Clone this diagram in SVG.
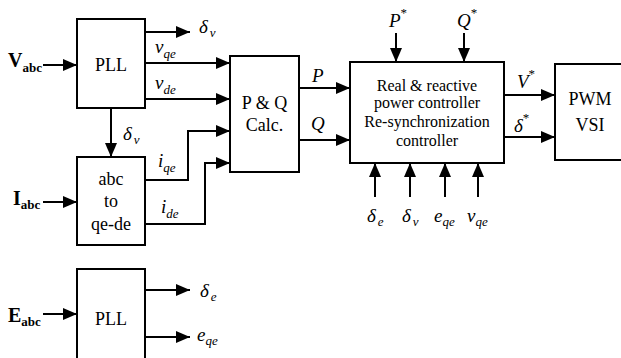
<svg xmlns="http://www.w3.org/2000/svg" width="621" height="358" viewBox="0 0 621 358">
<style>
.box{fill:#fff;stroke:#000;stroke-width:2}
.w{fill:none;stroke:#000;stroke-width:2;marker-end:url(#ah)}
text{font-family:'Liberation Serif','Times New Roman',Times,'DejaVu Serif',serif;fill:#000}
.t{font-size:18px;text-anchor:middle}
.ct{font-size:16px;text-anchor:middle}
.i{font-style:italic;font-size:19px}
.b{font-weight:bold;font-size:20px}
.s{font-size:13px}
.sb{font-size:13px}
.sup{font-size:13px;font-style:normal}
</style>
<defs>
<marker id="ah" markerUnits="userSpaceOnUse" markerWidth="14" markerHeight="12" refX="14" refY="6" orient="auto">
<path d="M0,0 L14,6 L0,12 z" fill="#000"/>
</marker>
</defs>
<rect width="621" height="358" fill="#fff"/>
<g id="connectors">
<line class="w" x1="43" y1="65" x2="77" y2="65"/>
<line class="w" x1="145" y1="32" x2="190" y2="32"/>
<line class="w" x1="145" y1="63" x2="230" y2="63"/>
<line class="w" x1="145" y1="99" x2="230" y2="99"/>
<line class="w" x1="111" y1="108" x2="111" y2="157"/>
<line class="w" x1="43" y1="202" x2="77" y2="202"/>
<polyline class="w" points="145,180 188,180 188,131 230,131"/>
<polyline class="w" points="145,224 205,224 205,163 230,163"/>
<line class="w" x1="299" y1="88" x2="350" y2="88"/>
<line class="w" x1="299" y1="140" x2="350" y2="140"/>
<line class="w" x1="396" y1="33" x2="396" y2="62"/>
<line class="w" x1="464" y1="33" x2="464" y2="62"/>
<line class="w" x1="375" y1="197" x2="375" y2="163"/>
<line class="w" x1="410" y1="197" x2="410" y2="163"/>
<line class="w" x1="445" y1="197" x2="445" y2="163"/>
<line class="w" x1="478" y1="197" x2="478" y2="163"/>
<line class="w" x1="504" y1="95" x2="555" y2="95"/>
<line class="w" x1="504" y1="137" x2="555" y2="137"/>
<line class="w" x1="43" y1="314" x2="77" y2="314"/>
<line class="w" x1="145" y1="290" x2="190" y2="290"/>
<line class="w" x1="145" y1="337" x2="190" y2="337"/>
</g>
<g id="pll1">
<rect class="box" x="77" y="19" width="68" height="89"/>
<text class="t" x="111" y="71">PLL</text>
</g>
<g id="abc2dq">
<rect class="box" x="77" y="157" width="68" height="88"/>
<text class="t" x="111" y="185">abc</text>
<text class="t" x="111" y="207">to</text>
<text class="t" x="111" y="230">qe-de</text>
</g>
<g id="pqcalc">
<rect class="box" x="230" y="56" width="69" height="116"/>
<text class="t" x="264.5" y="109">P &amp; Q</text>
<text class="t" x="264.5" y="131">Calc.</text>
</g>
<g id="controller">
<rect class="box" x="350" y="62" width="154" height="101"/>
<text class="ct" x="427" y="91">Real &amp; reactive</text>
<text class="ct" x="427" y="108">power controller</text>
<text class="ct" x="427" y="127">Re-synchronization</text>
<text class="ct" x="427" y="146">controller</text>
</g>
<g id="pwm">
<rect class="box" x="555" y="64" width="70" height="96"/>
<text class="t" x="590" y="105">PWM</text>
<text class="t" x="590" y="131">VSI</text>
</g>
<g id="pll2">
<rect class="box" x="77" y="269" width="68" height="100"/>
<text class="t" x="111" y="325">PLL</text>
</g>
<g id="labels">
<text class="b" x="8" y="67">V<tspan class="sb" dy="5">abc</tspan></text>
<text class="b" x="13" y="205">I<tspan class="sb" dy="4">abc</tspan></text>
<text class="b" x="8" y="322">E<tspan class="sb" dy="4">abc</tspan></text>
<text class="i" x="199" y="33">δ<tspan class="s" dx="2" dy="4">v</tspan></text>
<text class="i" x="155" y="53">v<tspan class="s" dy="5">qe</tspan></text>
<text class="i" x="155" y="89">v<tspan class="s" dy="5">de</tspan></text>
<text class="i" x="123" y="140">δ<tspan class="s" dx="2" dy="4">v</tspan></text>
<text class="i" x="158" y="167">i<tspan class="s" dy="5">qe</tspan></text>
<text class="i" x="161" y="213">i<tspan class="s" dy="5">de</tspan></text>
<text class="i" x="312" y="82" font-size="20">P</text>
<text class="i" x="311" y="130" font-size="20">Q</text>
<text class="i" x="389" y="27" font-size="20">P<tspan class="sup" dy="-10">*</tspan></text>
<text class="i" x="457" y="27" font-size="20">Q<tspan class="sup" dy="-10">*</tspan></text>
<text class="i" x="517" y="88" font-size="20">V<tspan class="sup" dy="-10">*</tspan></text>
<text class="i" x="514" y="132" font-size="20">δ<tspan class="sup" dy="-10">*</tspan></text>
<text class="i" x="367" y="222">δ<tspan class="s" dx="2" dy="4">e</tspan></text>
<text class="i" x="402" y="222">δ<tspan class="s" dx="2" dy="4">v</tspan></text>
<text class="i" x="434" y="222">e<tspan class="s" dy="4">qe</tspan></text>
<text class="i" x="467" y="222">v<tspan class="s" dy="4">qe</tspan></text>
<text class="i" x="200" y="297">δ<tspan class="s" dx="2" dy="4">e</tspan></text>
<text class="i" x="197" y="341">e<tspan class="s" dy="4">qe</tspan></text>
</g>
</svg>
